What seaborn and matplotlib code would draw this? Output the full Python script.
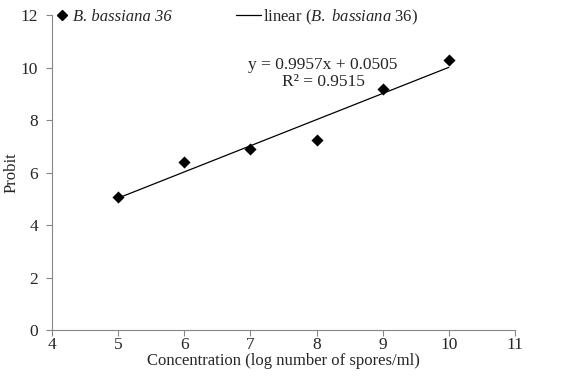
import numpy as np
import pandas as pd
import matplotlib
matplotlib.use("Agg")
import matplotlib.pyplot as plt
import seaborn as sns
from matplotlib.lines import Line2D

concentration = [5, 6, 7, 8, 9, 10]
probit = [5.07, 6.42, 6.88, 7.25, 9.17, 10.30]
slope = 0.9957
intercept = 0.0505
x_ticks = [4, 5, 6, 7, 8, 9, 10, 11]
y_ticks = [0, 2, 4, 6, 8, 10, 12]

sns.set_theme(style="white")
plt.rcParams['font.family'] = ['Liberation Serif', 'DejaVu Serif']
plt.rcParams['mathtext.fontset'] = 'custom'
plt.rcParams['mathtext.it'] = 'Liberation Serif:italic'
plt.rcParams['mathtext.rm'] = 'Liberation Serif'

df = pd.DataFrame({"x": concentration, "y": probit})
fit = pd.DataFrame({"x": [concentration[0], concentration[-1]]})
fit["y"] = slope * fit["x"] + intercept

fig = plt.figure(figsize=(5.8, 3.76), dpi=100)
ax = fig.add_axes([0.0897, 0.122, 0.798, 0.838])

sns.lineplot(data=fit, x="x", y="y", ax=ax, color="black", linewidth=0.9)
sns.scatterplot(data=df, x="x", y="y", ax=ax, marker="D", s=38, color="black",
                edgecolor="black", linewidth=0, zorder=3)

ax.set_xlim(4, 11)
ax.set_ylim(0, 12)
ax.set_xticks(x_ticks)
ax.set_yticks(y_ticks)
ax.set_xlabel("Concentration (log number of spores/ml)", fontsize=12, labelpad=0)
ax.set_ylabel("Probit", fontsize=12)
ax.yaxis.set_label_coords(-0.071, 0.5)
ax.tick_params(axis="both", labelsize=12.5, length=4, width=0.8, color="#868686",
               direction="out", bottom=True, left=True)
ax.tick_params(axis="x", pad=1)
ax.tick_params(axis="y", pad=6)
for side in ["top", "right"]:
    ax.spines[side].set_visible(False)
for side in ["left", "bottom"]:
    ax.spines[side].set_color("#868686")
    ax.spines[side].set_linewidth(0.8)

ax.text(8.1, 9.77, "y = 0.9957x + 0.0505\nR² = 0.9515", ha="center", va="center",
        fontsize=12.5, linespacing=1.1)

h1 = [Line2D([], [], marker="D", linestyle="none", color="black", markersize=5)]
leg1 = fig.legend(h1, ["B. bassiana 36"], loc="center left",
                  bbox_to_anchor=(0.098, 0.955), frameon=False, fontsize=12,
                  handlelength=0.6, handletextpad=0.35, borderaxespad=0, borderpad=0)
leg1.get_texts()[0].set_style("italic")
h2 = [Line2D([], [], color="black", linewidth=0.9)]
leg2 = fig.legend(h2, ["linear ($\\it{B.}$ $\\it{bassiana}$ 36)"], loc="center left",
                  bbox_to_anchor=(0.407, 0.955), frameon=False, fontsize=12,
                  handlelength=1.5, handletextpad=0.1, borderaxespad=0, borderpad=0)

fig.savefig("out.png", dpi=100)
